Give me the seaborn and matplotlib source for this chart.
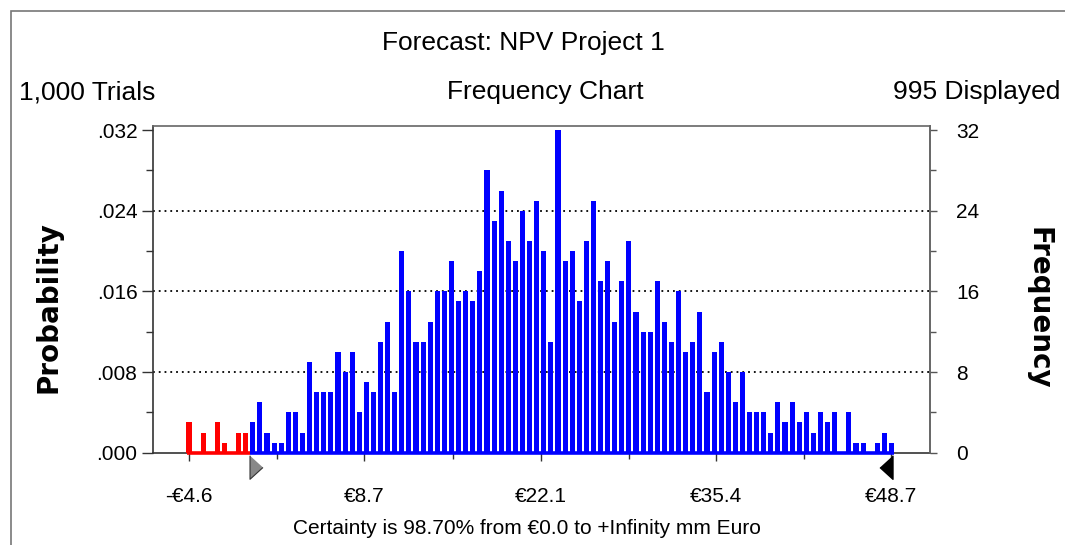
import numpy as np
import pandas as pd
import matplotlib
matplotlib.use('Agg')
import matplotlib.pyplot as plt
import seaborn as sns
from matplotlib.ticker import FixedLocator, FuncFormatter
from matplotlib.patches import Rectangle

# frequency counts per bin (1,000 trials, 995 displayed)
below_zero = [3, 0, 2, 0, 3, 1, 0, 2, 2]
above_zero = [3, 5, 2, 1, 1, 4, 4, 2, 9, 6, 6, 6, 10, 8, 10, 4, 7, 6, 11, 13, 6, 20,
              16, 11, 11, 13, 16, 16, 19, 15, 16, 15, 18, 28, 23, 26, 21, 19, 24, 21,
              25, 20, 11, 32, 19, 20, 15, 21, 25, 17, 19, 13, 17, 21, 14,
              12, 12, 17, 13, 11, 16, 10, 11, 14, 6, 10, 11, 8, 5, 8, 4, 4, 4, 2, 5,
              3, 5, 3, 4, 2, 4, 3, 4, 0, 4, 1, 1, 0, 1, 2, 1]
range_min, range_max = -4.6, 48.7
tick_values = [-4.6, 8.7, 22.1, 35.4, 48.7]
tick_labels = ['-€4.6', '€8.7', '€22.1', '€35.4', '€48.7']
minor_values = [2.05, 15.4, 28.75, 42.05]
freq_ticks = [0, 8, 16, 24, 32]
n_trials = 1000
certainty_from = 0.0

counts = below_zero + above_zero
centers = np.linspace(range_min, range_max, len(counts))
df = pd.DataFrame({'value': centers, 'count': counts,
                   'side': ['below'] * len(below_zero) + ['above'] * len(above_zero)})

sns.set_style('ticks')
plt.rcParams['font.family'] = ['Liberation Sans', 'DejaVu Sans']
plt.rcParams['text.color'] = 'black'
plt.rcParams['xtick.labelcolor'] = 'black'
plt.rcParams['ytick.labelcolor'] = 'black'

fig = plt.figure(figsize=(10.65, 5.45), dpi=100)
ax = fig.add_axes([0.1434, 0.1694, 0.7298, 0.5994])

sns.barplot(data=df, x='value', y='count', hue='side',
            palette={'below': '#FF0000', 'above': '#0000FF'},
            native_scale=True, width=0.72, dodge=False, legend=False,
            errorbar=None, saturation=1, ax=ax, zorder=3, linewidth=0)

# coloured baseline under the bars
half = 0.17
ax.plot([centers[0] - half, certainty_from], [0, 0], color='#FF0000', lw=2.6,
        solid_capstyle='butt', zorder=4, clip_on=False)
ax.plot([certainty_from, centers[-1] + half], [0, 0], color='#0000FF', lw=2.6,
        solid_capstyle='butt', zorder=4, clip_on=False)

for y in freq_ticks[1:-1]:
    ax.axhline(y, color='black', lw=1.3, ls=(0, (1, 2.2)), zorder=1)

ax.set_xlim(-7.35, 51.62)
ax.set_ylim(0, 32.4)
ax.set_xlabel('')
ax.set_ylabel('')

ax.xaxis.set_major_locator(FixedLocator(tick_values))
ax.set_xticklabels(tick_labels)
ax.xaxis.set_minor_locator(FixedLocator(minor_values))
ax.yaxis.set_major_locator(FixedLocator(freq_ticks))
ax.yaxis.set_minor_locator(FixedLocator([4, 12, 20, 28]))
ax.yaxis.set_major_formatter(FuncFormatter(lambda v, p: f'{v / n_trials:.3f}'.lstrip('0')))
ax.tick_params(axis='x', which='major', length=6, width=1, pad=19, labelsize=15, color='#333333')
ax.tick_params(axis='x', which='minor', length=4, width=1, color='#333333')
ax.tick_params(axis='y', which='major', length=8, width=1, pad=3, labelsize=15, color='#333333')
ax.tick_params(axis='y', which='minor', length=5, width=1, color='#333333')

for s in ax.spines.values():
    s.set_color('#666666')
    s.set_linewidth(1.2)
ax.spines['left'].set_color('#333333')
ax.spines['bottom'].set_color('#333333')

ax2 = ax.twinx()
ax2.set_ylim(ax.get_ylim())
ax2.yaxis.set_major_locator(FixedLocator(freq_ticks))
ax2.yaxis.set_minor_locator(FixedLocator([4, 12, 20, 28]))
ax2.set_yticklabels([str(t) for t in freq_ticks])
ax2.tick_params(axis='y', which='major', length=5, width=1, pad=14, labelsize=15, color='#555555')
ax2.tick_params(axis='y', which='minor', length=4, width=1, color='#555555')
for s in ax2.spines.values():
    s.set_visible(False)
ax2.spines['right'].set_visible(True)
ax2.spines['right'].set_color('#666666')
ax2.spines['right'].set_linewidth(1.2)

# range markers below the axis
tri_right = [(-0.55, 1), (-0.55, -1), (0.55, 0)]
tri_left = [(0.55, 1), (0.55, -1), (-0.55, 0)]
trans = ax.get_xaxis_transform()
ax.plot([certainty_from + 0.48], [-0.043], marker=tri_right, ms=17, color='#888888',
        mec='#333333', mew=0.8, transform=trans, clip_on=False, zorder=5)
ax.plot([range_max - 0.44], [-0.043], marker=tri_left, ms=17, color='black',
        transform=trans, clip_on=False, zorder=5)

# texts
fig.text(0.491, 0.922, 'Forecast: NPV Project 1', ha='center', va='center', fontsize=19)
fig.text(0.018, 0.831, '1,000 Trials', ha='left', va='center', fontsize=19)
fig.text(0.512, 0.831, 'Frequency Chart', ha='center', va='center', fontsize=19)
fig.text(0.996, 0.831, '995 Displayed', ha='right', va='center', fontsize=19)
fig.text(0.495, 0.031, 'Certainty is 98.70% from €0.0 to +Infinity mm Euro',
         ha='center', va='center', fontsize=15)
fig.text(0.046, 0.437, 'Probability', rotation=90, ha='center', va='center',
         fontsize=20, fontweight='bold', family='DejaVu Sans')
fig.text(0.975, 0.435, 'Frequency', rotation=270, ha='center', va='center',
         fontsize=20, fontweight='bold', family='DejaVu Sans')

fig.add_artist(Rectangle((11 / 1065, -0.1), 1.2, 1.1 - 11 / 545, transform=fig.transFigure,
                         fill=False, edgecolor='#777777', lw=1.2))

fig.savefig('out.png', dpi=100)
